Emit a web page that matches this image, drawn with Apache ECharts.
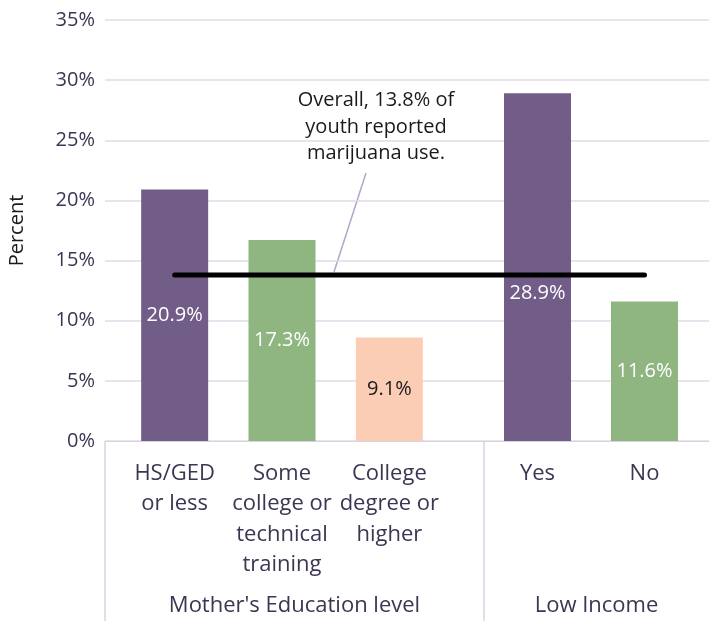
<!DOCTYPE html>
<html>
<head>
<meta charset="utf-8">
<script src="https://cdn.jsdelivr.net/npm/echarts@6/dist/echarts.min.js"></script>
<style>
	html, body { margin: 0; padding: 0; background: #fff; }
	#main { width: 710px; height: 621px; }
</style>
</head>
<body>
<div id="main"></div>
<script>
// data
const eduCategories = ['HS/GED\nor less', 'Some\ncollege or\ntechnical\ntraining', 'College\ndegree or\nhigher'];
const eduValues = [20.9, 16.7, 8.6];
const eduLabels = ['20.9%', '17.3%', '9.1%'];
const incomeCategories = ['Yes', 'No'];
const incomeValues = [28.9, 11.6];
const incomeLabels = ['28.9%', '11.6%'];
const groupNames = ["Mother's Education level", 'Low Income'];
const overallRate = 13.8;
const yTicks = [0, 35, 5]; // min, max, interval

const FONT = '"Open Sans", sans-serif';
const TEXT = '#3d3552';
const GRID_LINE = '#e0dae6';
const purple = '#715d87', green = '#8fb680', peach = '#fbcdb4';

// layout (pixels)
const gridTop = 20, gridBottom = 180;
const plotLeft = 105, plotRight = 709, splitX = 484, axisY = 621 - gridBottom;
const gridA = { left: 121, right: 267 };
const gridB = { left: 484, right: 12 };
const barW = 67;
const catA = (710 - gridA.right - gridA.left) / eduValues.length;
const catB = (710 - gridB.right - gridB.left) / incomeValues.length;
const lineStart = gridA.left + catA / 2;
const lineEnd = 710 - gridB.right - catB / 2;

let myChart = echarts.init(document.getElementById('main'));

const hiddenY = function(i) {
	return {
		type: 'value', gridIndex: i, min: yTicks[0], max: yTicks[1], interval: yTicks[2],
		show: false
	};
};

const catAxis = function(i, data) {
	return {
		type: 'category', gridIndex: i, data: data,
		axisLine: { show: false },
		axisTick: { show: false },
		axisLabel: {
			interval: 0, margin: 17, color: TEXT, fontFamily: FONT, fontSize: 22, lineHeight: 30.5
		}
	};
};

const barData = function(values, labels, colors, offsets) {
	return values.map(function(v, i) {
		return {
			value: v,
			itemStyle: { color: colors[i] },
			label: {
				formatter: labels[i],
				color: colors[i] === peach ? '#1a1a1a' : '#fff',
				offset: offsets[i]
			}
		};
	});
};

const makeGrid = function(left, right) {
	return { left: left, right: right, top: gridTop, bottom: gridBottom, outerBoundsMode: 'none', containLabel: false };
};

let option = {
	backgroundColor: '#fff',
	animation: false,
	grid: [
		makeGrid(plotLeft, 710 - plotRight),
		makeGrid(gridA.left, gridA.right),
		makeGrid(gridB.left, gridB.right),
		makeGrid(lineStart, 710 - lineEnd)
	],
	xAxis: [
		{
			type: 'value', gridIndex: 0, min: 0, max: 1,
			axisLine: { show: true, lineStyle: { color: '#d9d2e0', width: 1 } },
			axisTick: { show: false },
			axisLabel: { show: false },
			splitLine: { show: false }
		},
		catAxis(1, eduCategories),
		catAxis(2, incomeCategories),
		{ type: 'category', gridIndex: 3, data: ['', ''], boundaryGap: false, show: false }
	],
	yAxis: [
		{
			type: 'value', gridIndex: 0, min: yTicks[0], max: yTicks[1], interval: yTicks[2],
			name: 'Percent',
			nameLocation: 'middle',
			nameRotate: 90,
			nameGap: 78,
			nameTextStyle: { color: '#1a1a1a', fontFamily: FONT, fontSize: 20 },
			axisLine: { show: false },
			axisTick: { show: false },
			axisLabel: { formatter: '{value}%', color: TEXT, fontFamily: FONT, fontSize: 20, margin: 10 },
			splitLine: { lineStyle: { color: GRID_LINE, width: 1.5 } }
		},
		hiddenY(1),
		hiddenY(2),
		hiddenY(3)
	],
	series: [
		{
			type: 'bar', xAxisIndex: 1, yAxisIndex: 1, barWidth: barW,
			label: { show: true, position: 'inside', fontFamily: FONT, fontSize: 20 },
			data: barData(eduValues, eduLabels, [purple, green, peach], [[0, 0], [0, 0], [0, 0]])
		},
		{
			type: 'bar', xAxisIndex: 2, yAxisIndex: 2, barWidth: barW,
			label: { show: true, position: 'inside', fontFamily: FONT, fontSize: 20 },
			data: barData(incomeValues, incomeLabels, [purple, green], [[0, 26], [0, 0]])
		},
		{
			type: 'line', xAxisIndex: 3, yAxisIndex: 3,
			symbol: 'none',
			lineStyle: { color: '#000', width: 5, cap: 'round' },
			data: [overallRate, overallRate]
		}
	],
	graphic: [
		{
			type: 'line', shape: { x1: plotLeft, y1: axisY, x2: plotLeft, y2: 621 },
			style: { stroke: '#d9d2e0', lineWidth: 1.5 }
		},
		{
			type: 'line', shape: { x1: splitX, y1: axisY, x2: splitX, y2: 621 },
			style: { stroke: '#d9d2e0', lineWidth: 1.5 }
		},
		{
			type: 'text', x: (plotLeft + splitX) / 2, y: 606,
			style: { text: groupNames[0], fill: TEXT, font: '22px ' + FONT, textAlign: 'center', textVerticalAlign: 'middle' }
		},
		{
			type: 'text', x: (splitX + plotRight) / 2, y: 606,
			style: { text: groupNames[1], fill: TEXT, font: '22px ' + FONT, textAlign: 'center', textVerticalAlign: 'middle' }
		},
		{
			type: 'line', shape: { x1: 366, y1: 173, x2: 334, y2: 272 },
			style: { stroke: '#b4a5c9', lineWidth: 1.5 }
		},
		{
			type: 'text', x: 376, y: 127,
			style: {
				text: 'Overall, ' + overallRate + '% of\nyouth reported\nmarijuana use.',
				fill: '#1a1a1a', font: '20px ' + FONT, lineHeight: 26.5,
				textAlign: 'center', textVerticalAlign: 'middle'
			}
		}
	]
};

myChart.setOption(option);
</script>
</body>
</html>
